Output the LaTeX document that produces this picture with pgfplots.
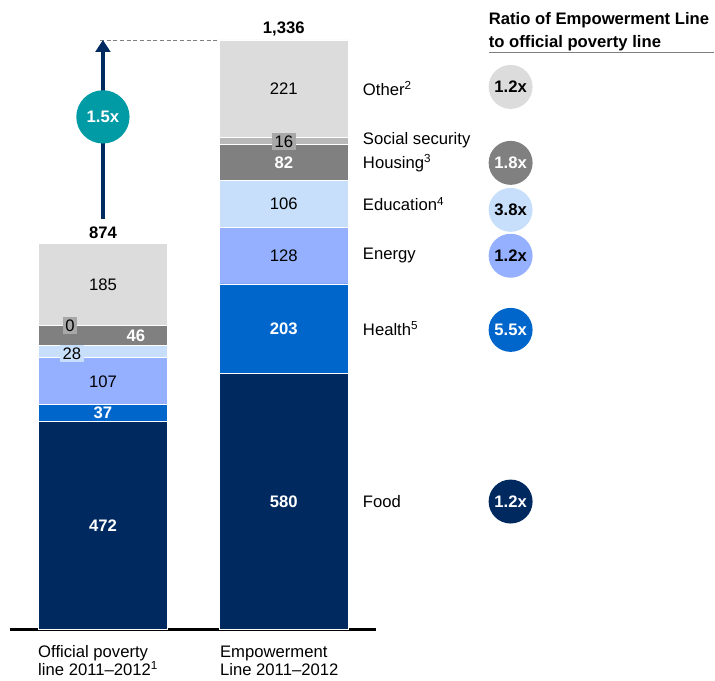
\documentclass[border=0pt]{standalone}
\usepackage{pgfplots}
\pgfplotsset{compat=1.18}
\usepackage{fontspec}
\setmainfont{Liberation Sans}
\usetikzlibrary{arrows.meta}

\definecolor{cFood}{HTML}{002960}
\definecolor{cHealth}{HTML}{0066CC}
\definecolor{cEnergy}{HTML}{94B0FF}
\definecolor{cEdu}{HTML}{C7DFFA}
\definecolor{cHousing}{HTML}{808080}
\definecolor{cSocial}{HTML}{B8B8B8}
\definecolor{cOther}{HTML}{DCDCDC}
\definecolor{cTeal}{HTML}{009BA5}
\definecolor{cBox}{HTML}{A8A8A8}

\pgfplotsset{frame/.style={
    scale only axis,
    width=536.25pt, height=510.75pt,
    xmin=0, xmax=715,
    ymin=-115.5, ymax=1426.6,
    hide axis,
    clip=false}}

\begin{document}
\begin{tikzpicture}[font=\fontsize{12.5}{14}\selectfont]
\begin{axis}[
    frame,
    ybar stacked,
    bar width=129,
    every axis plot/.append style={draw=white, line width=0.7pt},
]
\path (rel axis cs:0,0) rectangle (rel axis cs:1,1);

% stacks from bottom: Food, Health, Energy, Education, Housing, Social security, Other
\addplot[fill=cFood]    coordinates {(103,472) (284,580)};
\addplot[fill=cHealth]  coordinates {(103,37)  (284,203)};
\addplot[fill=cEnergy]  coordinates {(103,107) (284,128)};
\addplot[fill=cEdu]     coordinates {(103,28)  (284,106)};
\addplot[fill=cHousing] coordinates {(103,46)  (284,82)};
\addplot[fill=cSocial]  coordinates {(103,0)   (284,16)};
\addplot[fill=cOther]   coordinates {(103,184) (284,221)};

% baseline, arrow
\draw[black, line width=2.2pt] (axis cs:10,0) -- (axis cs:376,0);
\draw[cFood, line width=3pt, -{Triangle[length=9pt, width=11pt]}] (axis cs:103,930) -- (axis cs:103,1336);
\draw[gray, densely dashed, line width=0.6pt] (axis cs:100,1336) -- (axis cs:220,1336);
\end{axis}

\begin{axis}[frame]
\tikzset{bw/.style={white, font=\fontsize{12.5}{14}\selectfont\bfseries}}
% bar 1 labels
\node[bw] at (axis cs:103,236) {472};
\node[bw] at (axis cs:103,490.5) {37};
\node at (axis cs:103,562.5) {107};
\node[fill=cEdu, inner sep=2pt] at (axis cs:72,626) {28};
\node[bw] at (axis cs:136,665) {46};
\node[fill=cBox, inner sep=2pt] at (axis cs:70,688) {0};
\node at (axis cs:103,782) {185};
\node[anchor=south, font=\fontsize{12.5}{14}\selectfont\bfseries, inner sep=2pt] at (axis cs:103,878) {874};

% bar 2 labels
\node[bw] at (axis cs:284,290) {580};
\node[bw] at (axis cs:284,681.5) {203};
\node at (axis cs:284,847) {128};
\node at (axis cs:284,964) {106};
\node[bw] at (axis cs:284,1058) {82};
\node[fill=cBox, inner sep=2pt] at (axis cs:284,1106) {16};
\node at (axis cs:284,1225.5) {221};
\node[anchor=south, font=\fontsize{12.5}{14}\selectfont\bfseries, inner sep=2pt] at (axis cs:284,1338) {1,336};

% category names
\node[anchor=west, inner sep=0pt] at (axis cs:363,1225.5) {Other\textsuperscript{2}};
\node[anchor=west, inner sep=0pt] at (axis cs:363,1110) {Social security};
\node[anchor=west, inner sep=0pt] at (axis cs:363,1056) {Housing\textsuperscript{3}};
\node[anchor=west, inner sep=0pt] at (axis cs:363,964) {Education\textsuperscript{4}};
\node[anchor=west, inner sep=0pt] at (axis cs:363,847) {Energy};
\node[anchor=west, inner sep=0pt] at (axis cs:363,681.5) {Health\textsuperscript{5}};
\node[anchor=west, inner sep=0pt] at (axis cs:363,290) {Food};

% ratio header
\node[anchor=base west, inner sep=0pt, font=\fontsize{12.5}{14}\selectfont\bfseries] at (axis cs:489,1370) {Ratio of Empowerment Line};
\node[anchor=base west, inner sep=0pt, font=\fontsize{12.5}{14}\selectfont\bfseries] at (axis cs:489,1320) {to official poverty line};
\draw[gray, line width=0.8pt] (axis cs:489,1307) -- (axis cs:715,1307);

% ratio circles
\tikzset{rc/.style={circle, minimum size=33pt, inner sep=0pt, font=\fontsize{12.5}{14}\selectfont\bfseries}}
\node[rc, fill=cOther] at (axis cs:511,1229.6) {1.2x};
\node[rc, fill=cHousing, text=white] at (axis cs:511,1057.5) {1.8x};
\node[rc, fill=cEdu] at (axis cs:511,951) {3.8x};
\node[rc, fill=cEnergy] at (axis cs:511,847) {1.2x};
\node[rc, fill=cHealth, text=white] at (axis cs:511,679) {5.5x};
\node[rc, fill=cFood, text=white] at (axis cs:511,290) {1.2x};

\node[circle, fill=cTeal, text=white, minimum size=40pt, inner sep=0pt, font=\fontsize{12.5}{14}\selectfont\bfseries] at (axis cs:103,1161.7) {1.5x};

% x labels
\node[anchor=base west, inner sep=0pt] at (axis cs:38,-63) {Official poverty};
\node[anchor=base west, inner sep=0pt] at (axis cs:38,-104) {line 2011--2012\textsuperscript{1}};
\node[anchor=base west, inner sep=0pt] at (axis cs:220,-63) {Empowerment};
\node[anchor=base west, inner sep=0pt] at (axis cs:220,-104) {Line 2011--2012};
\end{axis}
\end{tikzpicture}
\end{document}
